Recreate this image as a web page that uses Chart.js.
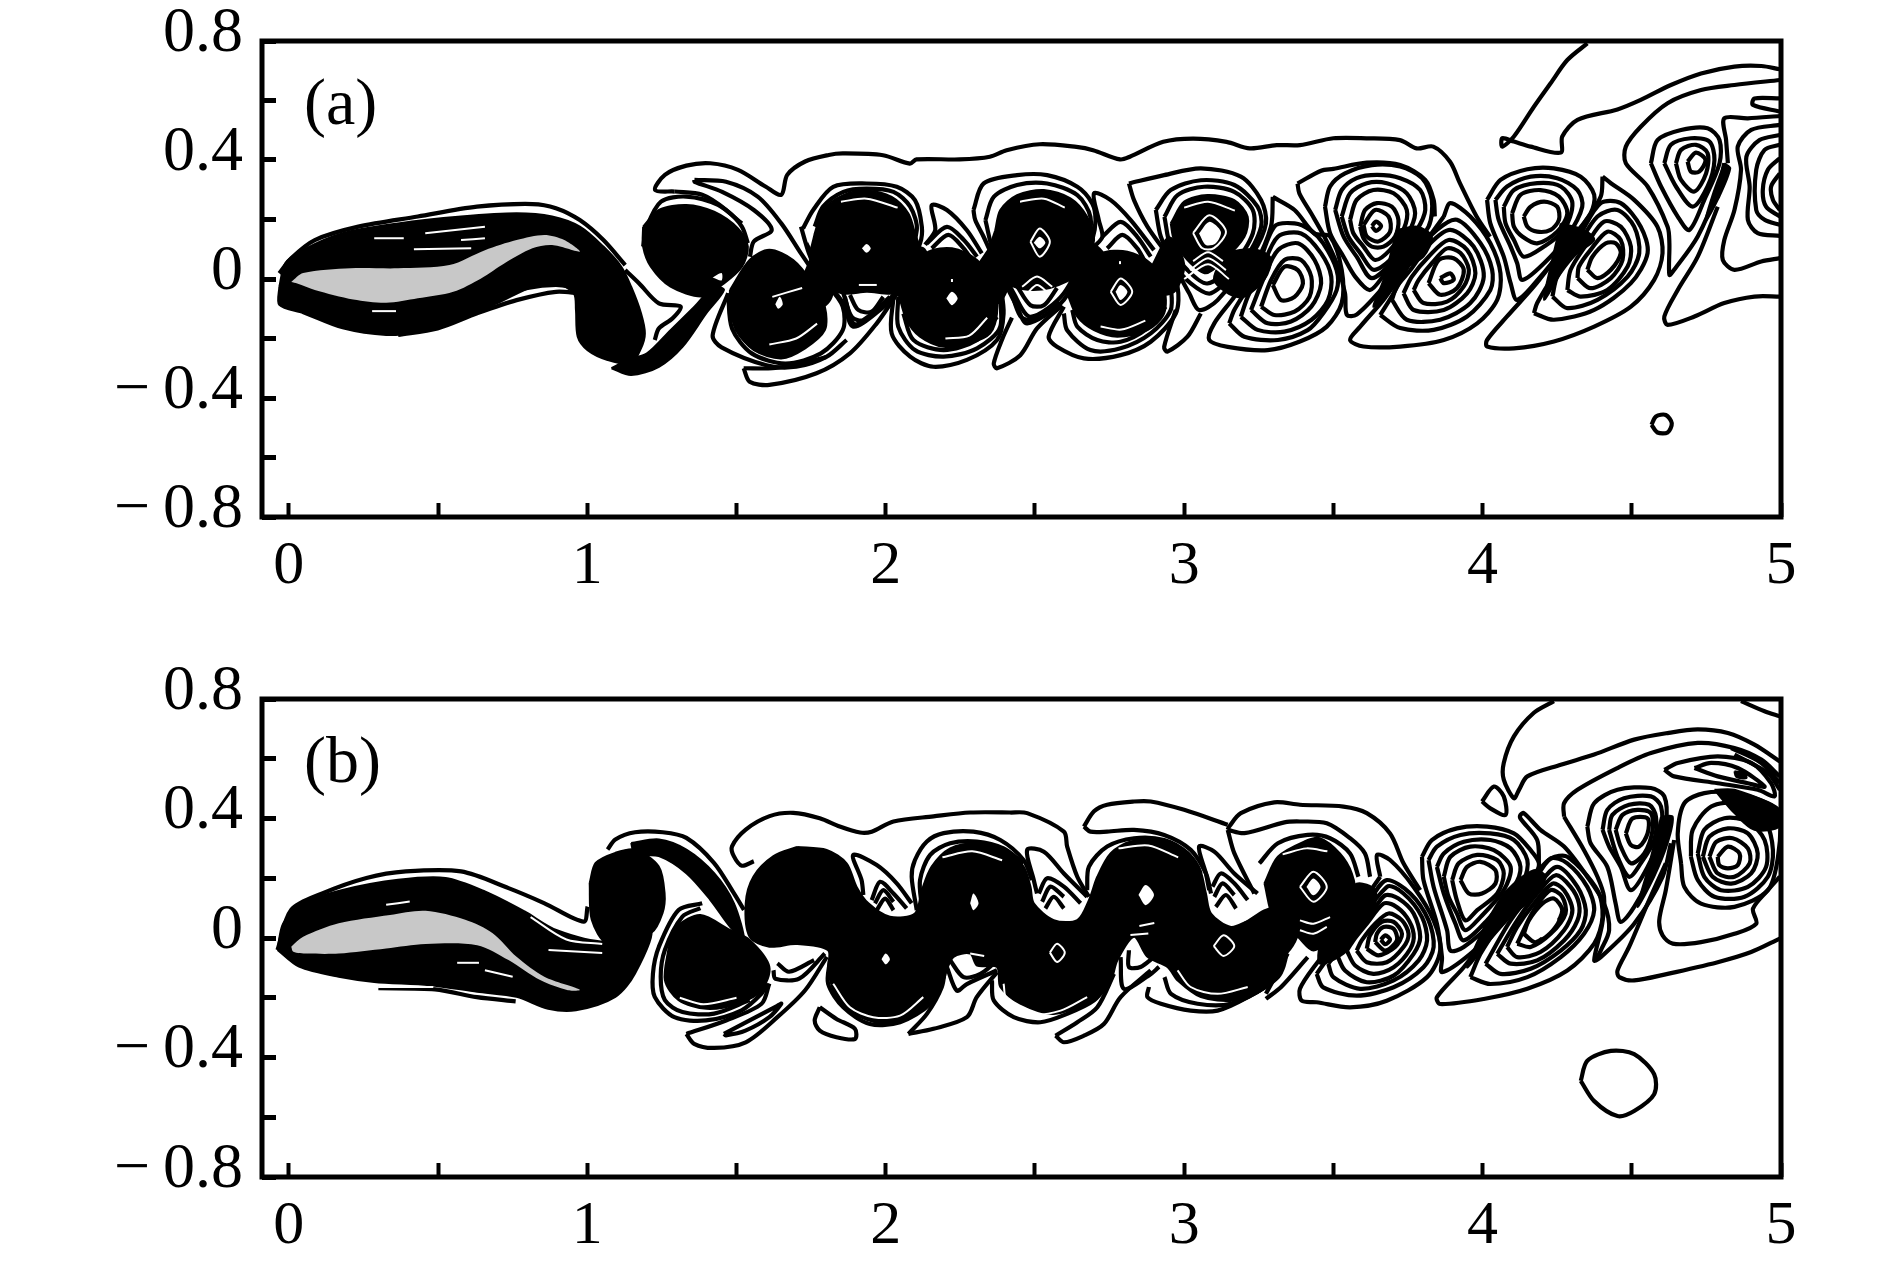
<!DOCTYPE html>
<html>
<head>
<meta charset="utf-8">
<script src="https://cdn.jsdelivr.net/npm/chart.js@4/dist/chart.umd.min.js"></script>
<style>
  body { margin: 0; background: #fff; }
  canvas { position: absolute; left: 0; }
  #panelA { top: 0; }
  #panelB { top: 658px; }
</style>
</head>
<body>
<canvas id="panelA" width="1890" height="610"></canvas>
<canvas id="panelB" width="1890" height="618"></canvas>
<script>
// Axes --------------------
const xTicks = [0, 0.5, 1, 1.5, 2, 2.5, 3, 3.5, 4, 4.5, 5];
const yTicks = [-0.8, -0.6, -0.4, -0.2, 0, 0.2, 0.4, 0.6, 0.8];
const xLabels = [0, 1, 2, 3, 4, 5];
const yLabels = [-0.8, -0.4, 0, 0.4, 0.8];

// Panel (a): solid black regions --------------------
const aBlackFills = [
  [[-.032,-.026],[-.012,.053],[.048,.098],[.18,.154],[.366,.187],[.577,.21],[.763,.221],[.882,.21],[.975,.176],[1.054,.109],[1.114,.041],[1.147,-.026],[1.18,-.115],[1.193,-.183],[1.18,-.233],[1.147,-.284],[1.068,-.272],[1.001,-.239],[.968,-.194],[.962,-.104],[.955,-.048],[.895,-.015],[.816,-.026],[.697,-.082],[.564,-.138],[.432,-.177],[.326,-.188],[.18,-.166],[.048,-.115],[-.032,-.087]],
  [[1.081,-.3],[1.147,-.323],[1.24,-.295],[1.319,-.228],[1.399,-.115],[1.458,-.037],[1.425,-.026],[1.359,-.093],[1.279,-.172],[1.2,-.25],[1.134,-.272]],
  [[1.187,.176],[1.24,.232],[1.332,.249],[1.425,.226],[1.505,.17],[1.538,.109],[1.518,.041],[1.458,-.015],[1.385,-.059],[1.279,-.026],[1.213,.041],[1.187,.109]],
  [[1.478,-.037],[1.544,.064],[1.61,.098],[1.69,.064],[1.756,-.015],[1.796,-.093],[1.796,-.172],[1.73,-.233],[1.65,-.267],[1.558,-.239],[1.498,-.172],[1.478,-.093]],
  [[1.762,.153],[1.79,.232],[1.858,.282],[1.936,.297],[2.02,.276],[2.076,.22],[2.098,.153],[2.115,.086],[2.042,-.043],[1.936,-.043],[1.852,-.048],[1.779,-.004],[1.746,.064]],
  [[2.042,-.048],[2.098,.041],[2.143,.092],[2.222,.103],[2.306,.064],[2.362,-.026],[2.373,-.116],[2.35,-.183],[2.283,-.216],[2.194,-.228],[2.115,-.194],[2.07,-.138]],
  [[2.367,.164],[2.384,.232],[2.44,.282],[2.53,.299],[2.619,.271],[2.675,.209],[2.698,.131],[2.664,.03],[2.55,-.03],[2.44,-.03],[2.339,.041],[2.35,.108]],
  [[2.608,-.048],[2.664,.03],[2.72,.086],[2.81,.092],[2.888,.052],[2.933,-.026],[2.933,-.116],[2.877,-.172],[2.776,-.194],[2.698,-.172],[2.642,-.127]],
  [[2.955,.187],[3.0,.26],[3.078,.282],[3.168,.265],[3.213,.209],[3.202,.142],[3.134,.064],[3.073,.019],[3.011,.064],[2.966,.131]],
  [[3.14,.09],[3.235,.1],[3.29,.07],[3.27,.0],[3.2,-.06],[3.15,-.05],[3.1,.0]],
  [[3.713,.165],[3.78,.176],[3.83,.143],[3.802,.075],[3.735,.031],[3.679,-.048],[3.634,-.093],[3.668,-.003]],
  [[4.262,.187],[4.34,.165],[4.374,.131],[4.318,.087],[4.262,.019],[4.206,-.07],[4.228,.042]],
  [[4.81,.389],[4.83,.372],[4.79,.27],[4.745,.19],[4.77,.28]]
];
const aBridges = [
  [[1.745,.06],[1.82,-.05],[1.79,-.09],[1.72,-.02]],
  [[2.02,-.04],[2.07,.1],[2.13,.1],[2.14,.03],[2.08,-.07]],
  [[2.31,.05],[2.37,.12],[2.42,.02],[2.38,-.08],[2.33,-.04]],
  [[2.62,.0],[2.68,.12],[2.73,.08],[2.68,-.06],[2.62,-.07]],
  [[2.89,.04],[2.95,.14],[3.0,.05],[2.97,-.04],[2.92,-.05]]
];
const aGrey = [[.008,-.01],[.048,.02],[.207,.036],[.366,.036],[.538,.047],[.657,.097],[.763,.131],[.856,.148],[.923,.131],[.975,.092],[.882,.114],[.816,.103],[.723,.053],[.644,.002],[.551,-.043],[.432,-.065],[.326,-.08],[.216,-.069],[.087,-.037],[.028,-.015]];

// Panel (a): contour lines --------------------
const aBodyCurves = [
  [[-.032,.019],[.008,.07],[.087,.131],[.233,.176],[.432,.21],[.63,.243],[.816,.252],[.895,.238],[.975,.198],[1.054,.131],[1.127,.047]],
  [[.366,-.188],[.498,-.166],[.631,-.115],[.763,-.071],[.895,-.043],[.975,-.048]],
  [[.7,-.06],[.8,-.03],[.895,-.02],[.97,-.03]],
  [[1.127,.03],[1.174,-.015],[1.24,-.082],[1.313,-.093],[1.286,-.132],[1.24,-.166],[1.226,-.205]]
];
const aTopStreamer = [[1.187,.109],[1.2,.176],[1.247,.26],[1.332,.277],[1.438,.249],[1.518,.187]];
const aStreamer1 = [[1.293,.294],[1.385,.283],[1.465,.232],[1.518,.176],[1.538,.12]];
const aStreamer2 = [[1.359,.333],[1.465,.327],[1.571,.277],[1.65,.187],[1.716,.086],[1.776,-.003]];
const aStreamer3 = [[1.359,.333],[1.359,.327],[1.452,.293],[1.558,.232],[1.618,.165],[1.558,.126],[1.545,.075]];
const aStreamer4 = [[1.716,.176],[1.743,.086],[1.783,-.003]];
const aOuterTop = [[1.293,.294],[1.227,.299],[1.26,.35],[1.332,.381],[1.412,.389],[1.505,.367],[1.597,.311],[1.65,.283],[1.67,.35],[1.73,.395],[1.809,.417],[1.857,.422],[1.991,.416],[2.081,.388],[2.103,.402],[2.248,.402],[2.349,.411],[2.405,.433],[2.516,.453],[2.639,.444],[2.695,.433],[2.785,.402],[2.818,.411],[2.93,.461],[3.03,.472],[3.142,.461],[3.22,.439],[3.31,.45],[3.388,.45],[3.5,.473],[3.611,.473],[3.723,.467],[3.779,.439],[3.835,.445],[3.891,.394],[3.924,.322],[3.98,.21],[4.025,.142]];
const aV2Curves = [
  [[1.472,-.048],[1.485,-.166],[1.551,-.25],[1.664,-.284],[1.783,-.25],[1.856,-.172],[1.856,-.093],[1.809,-.026],[1.763,.008]],
  [[1.472,-.048],[1.42,-.19],[1.45,-.23],[1.6,-.29],[1.7,-.295],[1.801,-.262],[1.869,-.205]],
  [[1.524,-.3],[1.544,-.345],[1.61,-.356],[1.768,-.317],[1.88,-.25],[1.97,-.149],[2.031,-.06]],
  [[1.524,-.3],[1.62,-.3],[1.712,-.286],[1.801,-.262]]
];
const aV3Curves = [
  [[1.723,.17],[1.757,.232],[1.824,.31],[1.936,.321],[2.037,.31],[2.098,.265],[2.121,.176],[2.115,.12],[2.048,-.037],[1.981,-.104],[1.891,-.16],[1.858,-.082],[1.79,.008],[1.734,.12]],
  [[1.762,.176],[1.79,.243],[1.858,.293],[1.936,.304],[2.026,.293],[2.082,.243],[2.104,.164],[2.048,-.024],[1.925,-.138],[1.886,-.127],[1.858,-.048]],
  [[1.863,-.06],[1.891,-.149],[1.925,-.144],[2.014,-.06]],
  [[1.88,-.054],[1.908,-.104],[1.953,-.11],[1.992,-.06]]
];
const aV4Curves = [
  [[2.132,.115],[2.166,.164],[2.154,.248],[2.205,.232],[2.272,.164],[2.322,.086]],
  [[2.138,.12],[2.205,.175],[2.261,.132],[2.306,.075]],
  [[2.154,.103],[2.21,.148],[2.261,.103],[2.289,.064]],
  [[2.026,-.06],[2.02,-.183],[2.082,-.261],[2.16,-.295],[2.272,-.272],[2.373,-.205],[2.395,-.116],[2.384,-.015]],
  [[2.042,-.06],[2.042,-.16],[2.098,-.239],[2.194,-.261],[2.306,-.233],[2.384,-.16],[2.373,.0]],
  [[2.059,-.116],[2.093,-.205],[2.194,-.239],[2.306,-.205],[2.373,-.127]]
];
const aV5Curves = [
  [[2.294,.232],[2.328,.321],[2.44,.349],[2.541,.349],[2.642,.31],[2.692,.254],[2.703,.198],[2.692,.131],[2.642,.008],[2.586,-.082],[2.474,-.149],[2.44,-.093],[2.384,.019],[2.328,.142],[2.3,.198],[2.294,.232]],
  [[2.334,.198],[2.362,.276],[2.44,.316],[2.541,.321],[2.642,.282],[2.686,.209],[2.675,.12],[2.597,-.048],[2.485,-.127],[2.429,-.048],[2.362,.086],[2.334,.198]],
  [[2.418,-.035],[2.451,-.125],[2.485,-.136],[2.58,-.076]],
  [[2.44,-.024],[2.485,-.088],[2.53,-.088],[2.574,-.03]]
];
const aV6Curves = [
  [[2.698,.108],[2.726,.142],[2.714,.198],[2.698,.288],[2.754,.265],[2.821,.198],[2.899,.097]],
  [[2.726,.142],[2.787,.192],[2.843,.142],[2.888,.075]],
  [[2.742,.103],[2.793,.148],[2.843,.103],[2.866,.064]],
  [[2.423,-.13],[2.39,-.203],[2.362,-.284],[2.373,-.3],[2.451,-.256],[2.507,-.166],[2.591,-.088]],
  [[2.597,-.093],[2.546,-.194],[2.574,-.228],[2.664,-.267],[2.787,-.256],[2.888,-.211],[2.972,-.116],[2.978,-.026],[2.944,.052]],
  [[2.597,-.116],[2.608,-.172],[2.686,-.239],[2.787,-.233],[2.888,-.183],[2.955,-.104],[2.955,-.015]],
  [[2.625,-.104],[2.642,-.16],[2.709,-.205],[2.787,-.211],[2.877,-.166],[2.938,-.093]]
];
const aV7Rings = [
  [[2.815,.321],[2.933,.349],[3.056,.372],[3.19,.344],[3.258,.265],[3.274,.187],[3.23,.086],[3.112,-.071],[3.05,-.104],[3.017,-.048],[2.955,.064],[2.877,.176],[2.832,.265]],
  [[2.905,.232],[2.955,.299],[3.056,.332],[3.168,.316],[3.246,.243],[3.258,.176],[3.202,.064],[3.09,-.048],[3.022,-.015],[2.966,.052],[2.922,.142]],
  [[2.934,.209],[2.978,.282],[3.067,.31],[3.168,.293],[3.23,.232],[3.23,.153],[3.168,.052],[3.078,-.015],[3.011,.03],[2.955,.108]]
];
const aV7Tail = [[2.972,-.104],[2.933,-.228],[2.944,-.244],[3.011,-.194],[3.056,-.116]];
const aV8Rings = [
  [[3.297,.276],[3.37,.232],[3.437,.153],[3.489,.143],[3.528,.031],[3.528,-.081],[3.478,-.16],[3.388,-.21],[3.28,-.239],[3.146,-.228],[3.084,-.205],[3.101,-.149],[3.168,-.06],[3.235,.041],[3.291,.176]],
  [[3.151,-.149],[3.202,-.194],[3.314,-.205],[3.414,-.172],[3.466,-.115],[3.511,-.037],[3.511,.03],[3.466,.12],[3.422,.165],[3.37,.187],[3.302,.176],[3.235,.008],[3.168,-.104]],
  [[3.19,-.127],[3.246,-.171],[3.336,-.177],[3.426,-.138],[3.482,-.071],[3.493,.008],[3.459,.086],[3.392,.153],[3.314,.142],[3.258,.03],[3.213,-.06]],
  [[3.224,-.104],[3.28,-.149],[3.358,-.143],[3.426,-.093],[3.459,-.015],[3.437,.064],[3.381,.12],[3.314,.097],[3.269,.008]],
  [[3.258,-.093],[3.302,-.121],[3.37,-.11],[3.42,-.06],[3.426,.008],[3.392,.064],[3.336,.064],[3.291,-.004]],
  [[3.297,-.02],[3.325,-.071],[3.37,-.06],[3.398,-.015],[3.381,.03],[3.336,.041]]
];
const aV9Rings = [
  [[3.472,.243],[3.489,.311],[3.539,.355],[3.629,.383],[3.724,.378],[3.797,.339],[3.83,.266],[3.819,.176],[3.746,.087],[3.679,.025],[3.623,-.037],[3.573,.008],[3.534,.075],[3.489,.154]],
  [[3.506,.232],[3.528,.299],[3.578,.339],[3.646,.35],[3.724,.339],[3.791,.299],[3.808,.232],[3.78,.165],[3.713,.075],[3.629,.003],[3.578,.075],[3.534,.143]],
  [[3.528,.21],[3.556,.288],[3.612,.322],[3.679,.322],[3.746,.288],[3.774,.221],[3.746,.143],[3.69,.064],[3.634,.031],[3.59,.087],[3.55,.143]],
  [[3.556,.199],[3.578,.266],[3.634,.299],[3.702,.288],[3.746,.232],[3.735,.165],[3.69,.098],[3.64,.064],[3.601,.109],[3.567,.154]],
  [[3.59,.176],[3.606,.232],[3.646,.255],[3.696,.243],[3.718,.199],[3.707,.143],[3.668,.109],[3.629,.109],[3.601,.137]],
  [[3.601,.182],[3.64,.232],[3.685,.21],[3.69,.159],[3.651,.126],[3.612,.143]],
  [[3.629,.178],[3.643,.193],[3.66,.178],[3.643,.162]]
];
const aV9Curves = [
  [[3.38,.321],[3.459,.364],[3.5,.37],[3.612,.391],[3.724,.383],[3.808,.333],[3.836,.266],[3.84,.21]],
  [[3.38,.321],[3.386,.288],[3.426,.22],[3.47,.142],[3.511,.053],[3.539,-.048],[3.545,-.12],[3.578,-.12],[3.679,-.014],[3.724,.053]]
];
const aV10Rings = [
  [[3.87,.21],[3.892,.255],[3.959,.21],[4.026,.12],[4.06,.019],[4.049,-.07],[3.982,-.149],[3.87,-.205],[3.724,-.227],[3.601,-.227],[3.556,-.205],[3.59,-.16],[3.668,-.07],[3.724,.008]],
  [[3.657,-.121],[3.724,-.165],[3.836,-.171],[3.948,-.126],[4.026,-.037],[4.032,.031],[3.993,.12],[3.914,.199],[3.847,.165],[3.769,.075],[3.702,-.048]],
  [[3.696,-.07],[3.746,-.137],[3.858,-.137],[3.959,-.081],[4.004,.008],[3.97,.109],[3.892,.165],[3.825,.12],[3.758,.03],[3.713,-.025]],
  [[3.735,-.048],[3.769,-.104],[3.87,-.104],[3.948,-.048],[3.976,.019],[3.948,.098],[3.886,.131],[3.819,.075],[3.763,.008]],
  [[3.769,-.037],[3.802,-.081],[3.881,-.076],[3.937,-.025],[3.954,.031],[3.926,.087],[3.881,.103],[3.83,.053],[3.786,-.003]],
  [[3.819,-.014],[3.858,-.053],[3.914,-.031],[3.937,.031],[3.903,.07],[3.853,.064]],
  [[3.858,.003],[3.892,.019],[3.903,-.003],[3.87,-.014]]
];
const aV11Rings = [
  [[4.015,.266],[4.06,.333],[4.15,.369],[4.239,.372],[4.329,.344],[4.374,.283],[4.362,.221],[4.284,.12],[4.194,.008],[4.116,-.07],[4.094,-.014],[4.071,.075],[4.026,.187]],
  [[4.043,.266],[4.082,.311],[4.161,.344],[4.25,.339],[4.318,.299],[4.334,.243],[4.284,.143],[4.206,.053],[4.133,-.003],[4.116,.053],[4.094,.109],[4.054,.199]],
  [[4.071,.243],[4.105,.299],[4.183,.322],[4.262,.311],[4.301,.255],[4.273,.165],[4.206,.109],[4.138,.075],[4.105,.131],[4.077,.187]],
  [[4.099,.221],[4.127,.283],[4.194,.299],[4.256,.277],[4.284,.221],[4.25,.159],[4.183,.12],[4.133,.143],[4.105,.176]],
  [[4.138,.21],[4.161,.243],[4.206,.26],[4.25,.243],[4.256,.199],[4.228,.165],[4.183,.159],[4.15,.176]]
];
const aV12Rings = [
  [[4.402,.344],[4.43,.322],[4.508,.266],[4.586,.176],[4.603,.087],[4.575,-.003],[4.497,-.093],[4.374,-.16],[4.239,-.21],[4.105,-.233],[4.015,-.227],[4.015,-.205],[4.082,-.126],[4.172,-.025],[4.25,.075],[4.34,.187],[4.396,.277]],
  [[4.172,-.115],[4.239,-.137],[4.374,-.104],[4.497,-.014],[4.553,.087],[4.53,.176],[4.463,.255],[4.396,.255],[4.329,.154],[4.25,.031],[4.183,-.081]],
  [[4.234,-.059],[4.284,-.098],[4.385,-.07],[4.486,.008],[4.525,.087],[4.508,.176],[4.452,.232],[4.385,.21],[4.318,.109],[4.25,.008]],
  [[4.284,-.037],[4.329,-.059],[4.418,-.037],[4.486,.042],[4.497,.109],[4.463,.176],[4.407,.193],[4.351,.12],[4.295,.031]],
  [[4.318,.003],[4.362,-.031],[4.43,.003],[4.469,.064],[4.463,.131],[4.418,.159],[4.362,.098],[4.323,.042]],
  [[4.351,.031],[4.385,.003],[4.43,.031],[4.463,.087],[4.446,.12],[4.413,.12],[4.368,.075]]
];
const aV13Rings = [
  [[4.564,.389],[4.586,.467],[4.665,.501],[4.754,.507],[4.794,.467],[4.794,.389],[4.743,.266],[4.693,.165],[4.654,.21],[4.598,.311]],
  [[4.609,.389],[4.631,.451],[4.698,.473],[4.76,.462],[4.777,.4],[4.754,.311],[4.704,.243],[4.648,.311]],
  [[4.648,.389],[4.665,.434],[4.715,.451],[4.754,.423],[4.749,.355],[4.71,.294],[4.665,.333]],
  [[4.687,.395],[4.715,.425],[4.747,.4],[4.726,.361],[4.698,.361]]
];
const aRightCurves = [
  [[4.351,.792],[4.284,.736],[4.228,.658],[4.172,.579],[4.105,.479],[4.066,.445],[4.066,.473],[4.105,.462],[4.161,.445],[4.262,.425],[4.267,.479],[4.318,.535],[4.452,.57],[4.53,.602],[4.631,.652],[4.732,.691],[4.844,.714],[4.934,.716],[4.996,.705]],
  [[4.996,.669],[4.844,.652],[4.732,.635],[4.62,.591],[4.53,.512],[4.48,.445],[4.48,.389],[4.553,.311],[4.62,.176],[4.626,.12],[4.626,.014],[4.642,.031],[4.721,.143],[4.788,.3],[4.81,.389]],
  [[4.996,.548],[4.889,.54],[4.81,.54],[4.816,.467],[4.822,.389]],
  [[4.996,.07],[4.934,.059],[4.844,.031],[4.805,.064],[4.81,.131],[4.844,.232],[4.866,.367],[4.855,.445],[4.9,.501],[4.996,.518]],
  [[4.996,.484],[4.928,.467],[4.884,.411],[4.895,.31],[4.889,.199],[4.922,.154],[4.996,.145]],
  [[4.996,.451],[4.945,.434],[4.917,.367],[4.917,.232],[4.945,.199],[4.996,.182]],
  [[4.996,.406],[4.956,.367],[4.939,.299],[4.95,.243],[4.996,.21]],
  [[4.996,.355],[4.967,.311],[4.973,.266],[4.996,.232]],
  [[4.996,.607],[4.911,.607],[4.906,.585],[4.996,.563]],
  [[4.996,-.059],[4.911,-.059],[4.81,-.081],[4.71,-.126],[4.62,-.154],[4.609,-.126],[4.654,-.037],[4.721,.075],[4.788,.243]]
];
const aOval = [[4.566,-.49],[4.581,-.462],[4.614,-.457],[4.634,-.485],[4.62,-.516],[4.586,-.516]];

// Panel (a): gaps inside the black regions --------------------
const aWhiteArcs = [
  [[.286,.137],[.385,.137]],[[.419,.1],[.611,.103]],[[.457,.154],[.657,.176]],[[.577,.131],[.657,.137]],[[.279,-.108],[.359,-.108]],
  [[1.61,-.22],[1.7,-.2],[1.77,-.15]],[[1.62,-.06],[1.72,-.03]],
  [[1.85,.26],[1.936,.27],[2.04,.24]],[[1.97,-.02],[1.91,-.02]],
  [[2.2,-.2],[2.28,-.19],[2.34,-.13]],[[2.222,-.01],[2.222,.0]],
  [[2.457,-.026],[2.507,.008],[2.558,-.026]],[[2.474,-.048],[2.507,-.02],[2.546,-.048]],[[2.45,.26],[2.53,.27],[2.6,.24]],
  [[2.72,-.16],[2.79,-.17],[2.87,-.14]],[[2.785,.06],[2.785,.05]],
  [[3.0,.0],[3.08,.05],[3.15,.0]],[[3.02,.03],[3.08,.07],[3.14,.03]],[[3.03,.06],[3.08,.09],[3.13,.06]],[[3.0,.24],[3.08,.26],[3.17,.23]]
];
const aWhiteRings = [
  [[2.485,.125],[2.516,.17],[2.55,.125],[2.516,.075]],
  [[2.754,-.043],[2.787,.002],[2.826,-.043],[2.787,-.087]],
  [[3.03,.155],[3.084,.214],[3.14,.16],[3.1,.104],[3.06,.104]]
];
const aHoles = [
  [[1.92,.103],[1.936,.118],[1.95,.103],[1.936,.088]],
  [[2.203,-.065],[2.222,-.043],[2.241,-.065],[2.222,-.088]],
  [[2.496,.122],[2.516,.142],[2.535,.122],[2.516,.103]],
  [[2.77,-.043],[2.787,-.02],[2.81,-.043],[2.787,-.071]],
  [[3.05,.153],[3.084,.192],[3.123,.159],[3.106,.12],[3.073,.114]],
  [[1.63,-.085],[1.645,-.06],[1.655,-.085],[1.64,-.1]],
  [[1.42,.005],[1.45,.02],[1.45,-.005]]
];

// Panel (b): solid black regions --------------------
const bBlackFills = [
  [[-.038,-.04],[-.019,.049],[.048,.117],[.18,.161],[.366,.195],[.525,.201],[.657,.156],[.79,.089],[.896,.027],[1.061,-.012],[1.213,.027],[1.16,-.119],[1.094,-.197],[.962,-.242],[.869,-.237],[.763,-.197],[.631,-.18],[.471,-.158],[.286,-.147],[.167,-.13],[.034,-.096]],
  [[1.008,.184],[1.028,.251],[1.094,.285],[1.16,.296],[1.239,.24],[1.259,.15],[1.252,.083],[1.213,.016],[1.068,-.018],[1.015,.061]],
  [[1.147,.318],[1.24,.33],[1.332,.296],[1.425,.217],[1.491,.117],[1.525,-.007],[1.478,.038],[1.412,.128],[1.332,.217],[1.24,.274],[1.16,.28]],
  [[1.273,-.029],[1.3,.038],[1.379,.077],[1.478,.027],[1.544,-.007],[1.61,-.096],[1.584,-.175],[1.505,-.22],[1.399,-.237],[1.306,-.208],[1.26,-.141]],
  [[1.703,.305],[1.802,.295],[1.869,.25],[1.902,.172],[1.942,.116],[2.014,.071],[2.098,.082],[2.121,.16],[2.154,.239],[2.216,.3],[2.305,.317],[2.406,.289],[2.462,.239],[2.485,.172],[2.496,.116],[2.563,.06],[2.642,.06],[2.681,.127],[2.709,.205],[2.754,.284],[2.821,.323],[2.921,.328],[3.0,.295],[3.05,.239],[3.073,.149],[3.09,.082],[3.157,.037],[3.235,.06],[3.325,-.008],[3.325,-.097],[3.28,-.164],[3.168,-.209],[3.056,-.198],[2.978,-.142],[2.944,-.097],[2.877,-.063],[2.832,.004],[2.776,-.075],[2.754,-.142],[2.686,-.209],[2.563,-.254],[2.451,-.22],[2.384,-.164],[2.373,-.097],[2.306,-.092],[2.283,-.052],[2.227,-.064],[2.194,-.131],[2.138,-.22],[2.026,-.288],[1.914,-.265],[1.835,-.198],[1.807,-.108],[1.807,-.041],[1.7,-.02],[1.61,-.029],[1.544,.004],[1.531,.117],[1.557,.206],[1.624,.274]],
  [[3.269,.183],[3.314,.272],[3.403,.323],[3.455,.334],[3.522,.283],[3.562,.216],[3.573,.138],[3.545,.07],[3.494,.003],[3.433,-.042],[3.38,.004],[3.302,.06]],
  [[3.2,.05],[3.3,.1],[3.38,.02],[3.33,-.06],[3.25,-.02]],
  [[3.5,.104],[3.578,.182],[3.64,.16],[3.634,.093],[3.578,.014],[3.534,-.053],[3.455,-.086],[3.455,-.019]],
  [[4.015,.059],[4.082,.16],[4.172,.227],[4.211,.205],[4.172,.138],[4.094,.07],[4.015,-.019],[3.948,-.098]],
  [[4.598,.406],[4.637,.406],[4.62,.317],[4.575,.205],[4.519,.104],[4.553,.227]],
  [[4.777,.496],[4.844,.496],[4.996,.429],[4.996,.373],[4.911,.362],[4.844,.418]],
  [[4.844,.558],[4.878,.552],[4.884,.535],[4.85,.539]]
];
const bGrey = [[.008,-.029],[.048,.004],[.167,.049],[.339,.077],[.458,.091],[.591,.061],[.683,.016],[.763,-.063],[.856,-.13],[.975,-.173],[.935,-.175],[.842,-.141],[.736,-.074],[.631,-.024],[.458,-.02],[.326,-.035],[.167,-.052],[.061,-.052],[.015,-.046]];

// Panel (b): contour lines --------------------
const bBodyCurves = [
  [[-.038,-.04],[.008,.094],[.114,.15],[.26,.201],[.392,.223],[.577,.223],[.736,.167],[.855,.117],[.988,.055],[1.001,.105]],
  [[1.068,.296],[1.094,.33],[1.16,.354],[1.253,.354],[1.332,.335],[1.425,.251],[1.491,.15],[1.525,.094]],
  [[.3,-.168],[.49,-.172],[.63,-.198],[.76,-.212]]
];
const bV2Curves = [
  [[1.385,.116],[1.306,.094],[1.24,-.029],[1.22,-.119],[1.226,-.197],[1.292,-.265],[1.398,-.276],[1.517,-.242],[1.584,-.186],[1.603,-.152]],
  [[1.379,.1],[1.319,.072],[1.26,-.04],[1.246,-.13],[1.26,-.208],[1.319,-.248],[1.425,-.253],[1.544,-.208]],
  [[1.332,-.321],[1.465,-.276],[1.584,-.22],[1.61,-.152]],
  [[1.332,-.321],[1.358,-.354],[1.425,-.368],[1.531,-.349],[1.637,-.265],[1.73,-.175],[1.803,-.063]],
  [[1.458,-.321],[1.544,-.276],[1.637,-.227],[1.65,-.22],[1.61,-.265],[1.53,-.31],[1.464,-.326],[1.458,-.321]],
  [[1.624,-.108],[1.63,-.136],[1.71,-.136],[1.796,-.052]],
  [[1.637,-.085],[1.676,-.113],[1.76,-.074]]
];
const bTopStreamer = [[1.558,.257],[1.518,.242],[1.491,.274],[1.485,.307],[1.531,.363],[1.611,.408],[1.69,.419],[1.779,.401],[1.846,.373],[1.914,.353],[1.953,.356],[2.026,.39],[2.16,.407],[2.283,.42],[2.418,.42],[2.474,.418],[2.597,.356],[2.608,.306],[2.642,.205],[2.681,.138]];
const bBlobTail = [[1.779,-.232],[1.762,-.276],[1.779,-.31],[1.835,-.332],[1.897,-.338],[1.897,-.304],[1.835,-.271]];
const bV4Curves = [
  [[1.925,.144],[1.919,.194],[1.891,.278],[1.97,.244],[2.037,.183],[2.087,.116]],
  [[1.953,.127],[1.981,.188],[2.026,.149],[2.07,.099]],
  [[1.964,.116],[1.992,.16],[2.026,.121]],
  [[1.97,.093],[1.998,.132],[2.026,.093]],
  [[1.813,-.075],[1.807,-.153],[1.858,-.232],[1.947,-.288],[2.048,-.282],[2.149,-.22],[2.194,-.131],[2.205,-.064]]
];
const bV5Curves = [
  [[2.104,.093],[2.087,.205],[2.098,.261],[2.138,.323],[2.194,.351],[2.294,.356],[2.384,.328],[2.462,.261],[2.49,.194]],
  [[2.121,.104],[2.115,.194],[2.149,.278],[2.216,.317],[2.305,.323],[2.395,.3],[2.462,.25]],
  [[2.205,-.097],[2.238,-.176],[2.272,-.154],[2.373,-.108]],
  [[2.216,-.075],[2.261,-.131],[2.317,-.12],[2.362,-.086]],
  [[2.076,-.321],[2.16,-.304],[2.272,-.265],[2.305,-.198],[2.373,-.114]],
  [[2.076,-.321],[2.138,-.254],[2.188,-.164],[2.199,-.097]]
];
const bV6Curves = [
  [[2.507,.149],[2.496,.194],[2.474,.295],[2.53,.289],[2.597,.216],[2.675,.138]],
  [[2.513,.149],[2.541,.2],[2.597,.172],[2.653,.116]],
  [[2.524,.121],[2.552,.172],[2.597,.138]],
  [[2.535,.099],[2.563,.138],[2.597,.099]],
  [[2.356,-.142],[2.362,-.209],[2.429,-.265],[2.518,-.282],[2.608,-.254],[2.698,-.209],[2.754,-.142]],
  [[2.569,-.327],[2.597,-.349],[2.664,-.327],[2.731,-.288],[2.787,-.198],[2.888,-.108]],
  [[2.569,-.327],[2.642,-.282],[2.709,-.232],[2.765,-.12]]
];
const bV7Curves = [
  [[2.664,.373],[2.698,.424],[2.742,.446],[2.832,.457],[2.888,.457],[3.0,.429],[3.146,.379]],
  [[2.664,.373],[2.686,.356],[2.742,.356],[2.832,.362],[2.933,.345],[3.022,.295],[3.073,.216],[3.09,.149]],
  [[2.675,.16],[2.681,.239],[2.742,.306],[2.832,.334],[2.933,.328],[3.011,.284],[3.056,.216]],
  [[2.787,-.064],[2.798,-.17],[2.882,-.125],[2.916,-.097]],
  [[2.815,-.041],[2.815,-.097],[2.854,-.097],[2.899,-.064]]
];
const bV8Curves = [
  [[3.084,.16],[3.073,.216],[3.05,.306],[3.101,.289],[3.168,.216],[3.246,.149]],
  [[3.095,.172],[3.123,.216],[3.168,.183],[3.213,.127]],
  [[3.101,.138],[3.129,.183],[3.168,.144]],
  [[3.106,.104],[3.14,.144],[3.174,.099]],
  [[2.882,-.164],[2.877,-.198],[2.922,-.22],[3.022,-.243],[3.112,-.243],[3.213,-.198],[3.314,-.131],[3.342,-.052],[3.325,.004]],
  [[2.934,-.131],[2.956,-.187],[3.045,-.22],[3.156,-.22],[3.269,-.164],[3.325,-.086]],
  [[3.274,-.204],[3.325,-.164],[3.414,-.064]],
  [[3.274,-.187],[3.347,-.052]]
];
const bV9Curves = [
  [[3.146,.362],[3.151,.373],[3.19,.418],[3.302,.454],[3.388,.446],[3.534,.44],[3.612,.418],[3.69,.35],[3.735,.25],[3.791,.16]],
  [[3.146,.362],[3.202,.351],[3.336,.387],[3.388,.39],[3.478,.384],[3.556,.334],[3.606,.283],[3.623,.205]],
  [[3.146,.362],[3.168,.284],[3.235,.149]],
  [[3.252,.25],[3.314,.317],[3.414,.345],[3.489,.334],[3.556,.283],[3.584,.205]]
];
const bV10Rings = [
  [[3.657,.205],[3.646,.278],[3.69,.261],[3.769,.171],[3.836,.059],[3.858,-.042],[3.814,-.131],[3.679,-.21],[3.556,-.232],[3.444,-.215],[3.394,-.21],[3.388,-.17],[3.444,-.085],[3.5,-.02]],
  [[3.444,-.12],[3.466,-.165],[3.578,-.193],[3.702,-.165],[3.802,-.098],[3.836,-.03],[3.819,.059],[3.758,.149],[3.679,.194],[3.629,.138]],
  [[3.483,-.086],[3.5,-.131],[3.59,-.17],[3.702,-.142],[3.786,-.075],[3.814,-.008],[3.797,.07],[3.735,.149],[3.679,.171]],
  [[3.511,-.053],[3.539,-.109],[3.612,-.148],[3.702,-.126],[3.769,-.053],[3.791,.003],[3.769,.082],[3.718,.132],[3.674,.143],[3.634,.093]],
  [[3.545,-.042],[3.573,-.092],[3.634,-.12],[3.702,-.098],[3.758,-.036],[3.769,.014],[3.746,.07],[3.702,.11],[3.668,.115],[3.612,.048],[3.567,-.008]],
  [[3.578,-.042],[3.612,-.081],[3.679,-.081],[3.735,-.03],[3.752,.014],[3.73,.059],[3.685,.082],[3.64,.048],[3.595,-.008]],
  [[3.612,-.036],[3.651,-.058],[3.707,-.03],[3.73,.014],[3.702,.054],[3.662,.054],[3.623,.009]],
  [[3.64,-.014],[3.674,-.042],[3.713,-.008],[3.702,.031],[3.668,.037],[3.646,.014]],
  [[3.659,-.006],[3.674,.009],[3.69,-.006],[3.674,-.021]]
];
const bV11Rings = [
  [[3.797,.272],[3.83,.328],[3.914,.367],[4.015,.373],[4.105,.35],[4.161,.294],[4.189,.25],[4.172,.205],[4.06,.048],[3.959,-.053],[3.864,-.114],[3.864,-.064],[3.847,.048],[3.802,.194]],
  [[3.819,.261],[3.847,.306],[3.926,.345],[4.026,.35],[4.105,.328],[4.15,.261],[4.138,.194],[4.038,.059],[3.937,-.03],[3.892,-.042],[3.881,.026],[3.836,.171]],
  [[3.847,.238],[3.87,.283],[3.937,.322],[4.026,.328],[4.094,.3],[4.127,.238],[4.105,.171],[4.015,.059],[3.937,-.008],[3.909,.048],[3.87,.149]],
  [[3.87,.205],[3.892,.272],[3.959,.306],[4.038,.294],[4.094,.238],[4.071,.16],[3.993,.07],[3.942,.026],[3.914,.082],[3.886,.138]],
  [[3.898,.194],[3.92,.25],[3.982,.278],[4.049,.261],[4.071,.216],[4.049,.149],[3.982,.093],[3.942,.059],[3.914,.126]],
  [[3.926,.194],[3.948,.238],[3.993,.255],[4.043,.227],[4.043,.182],[3.998,.149],[3.954,.149]]
];
const bV12Rings = [
  [[3.995,-.019],[3.937,-.098],[3.847,-.198],[3.858,-.221],[4.004,-.204],[4.15,-.17],[4.284,-.109],[4.374,-.019],[4.402,.07],[4.385,.16],[4.284,.272],[4.228,.266],[4.189,.227]],
  [[3.959,-.131],[4.026,-.154],[4.15,-.131],[4.262,-.064],[4.34,.014],[4.374,.093],[4.351,.171],[4.284,.25],[4.228,.266],[4.161,.171],[4.06,.048],[3.993,-.053]],
  [[4.01,-.086],[4.06,-.12],[4.161,-.103],[4.262,-.042],[4.329,.027],[4.346,.093],[4.318,.171],[4.25,.238],[4.183,.171],[4.094,.059]],
  [[4.049,-.053],[4.094,-.086],[4.183,-.075],[4.273,-.008],[4.318,.059],[4.323,.115],[4.295,.171],[4.245,.21],[4.183,.149],[4.116,.059]],
  [[4.082,-.03],[4.116,-.064],[4.194,-.047],[4.273,.026],[4.301,.093],[4.273,.16],[4.234,.182],[4.172,.115],[4.116,.037]],
  [[4.116,-.019],[4.161,-.03],[4.228,.014],[4.278,.082],[4.267,.138],[4.228,.16],[4.172,.093]],
  [[4.138,.014],[4.178,-.014],[4.239,.037],[4.267,.093],[4.239,.132],[4.2,.115],[4.155,.059]]
];
const bV12Hat = [[4.189,.25],[4.183,.328],[4.127,.4],[4.127,.412],[4.138,.418],[4.194,.362],[4.273,.306],[4.351,.205],[4.407,.115],[4.424,.026],[4.396,-.042],[4.379,-.075]];
const bV13Rings = [
  [[4.351,.373],[4.374,.451],[4.452,.496],[4.564,.502],[4.609,.474],[4.614,.384],[4.575,.238],[4.508,.104],[4.463,.054],[4.446,.115],[4.418,.238],[4.362,.317]],
  [[4.402,.362],[4.418,.429],[4.474,.468],[4.564,.474],[4.598,.44],[4.598,.35],[4.553,.238],[4.497,.16],[4.463,.238],[4.424,.306]],
  [[4.424,.362],[4.435,.412],[4.491,.446],[4.558,.446],[4.581,.406],[4.575,.328],[4.53,.25],[4.491,.205],[4.452,.272]],
  [[4.446,.362],[4.469,.412],[4.519,.429],[4.564,.418],[4.57,.362],[4.542,.283],[4.497,.25],[4.463,.306]],
  [[4.48,.35],[4.502,.4],[4.553,.4],[4.553,.35],[4.525,.306],[4.497,.311]]
];
const bV14Rings = [
  [[4.665,.25],[4.654,.35],[4.676,.451],[4.743,.485],[4.844,.485],[4.956,.451],[4.996,.418],[4.99,.272],[4.956,.16],[4.844,.104],[4.732,.115],[4.676,.171]],
  [[4.698,.272],[4.704,.362],[4.766,.44],[4.855,.451],[4.945,.395],[4.973,.294],[4.956,.205],[4.878,.138],[4.777,.138],[4.721,.194]],
  [[4.721,.283],[4.743,.362],[4.81,.401],[4.889,.39],[4.945,.328],[4.95,.238],[4.889,.171],[4.799,.16],[4.743,.205]],
  [[4.738,.272],[4.76,.339],[4.822,.367],[4.889,.35],[4.922,.283],[4.9,.216],[4.833,.182],[4.771,.205]],
  [[4.76,.272],[4.783,.322],[4.838,.334],[4.889,.3],[4.895,.25],[4.844,.205],[4.788,.216]],
  [[4.788,.272],[4.822,.306],[4.861,.283],[4.855,.244],[4.822,.233],[4.793,.244]],
  [[4.609,.563],[4.654,.586],[4.788,.608],[4.9,.586],[4.967,.518],[4.978,.474],[4.922,.496],[4.788,.518],[4.642,.541]],
  [[4.71,.569],[4.766,.586],[4.855,.569],[4.945,.507],[4.889,.518],[4.788,.541]],
  [[3.998,.457],[4.038,.507],[4.071,.474],[4.077,.412],[4.026,.434]]
];
const bRightCurves = [
  [[4.239,.793],[4.172,.754],[4.105,.675],[4.071,.586],[4.071,.53],[4.105,.468],[4.122,.496],[4.15,.541],[4.262,.58],[4.374,.614],[4.508,.664],[4.62,.686],[4.721,.698],[4.822,.686],[4.911,.647],[4.996,.591]],
  [[4.866,.793],[4.945,.759],[4.996,.742]],
  [[4.273,.406],[4.273,.451],[4.318,.496],[4.452,.569],[4.564,.619],[4.721,.653],[4.844,.636],[4.934,.597],[4.996,.541]],
  [[4.273,.406],[4.34,.294],[4.385,.205],[4.407,.138],[4.401,.048],[4.374,-.075],[4.396,-.064],[4.508,.048],[4.603,.205],[4.631,.317]],
  [[4.833,.636],[4.934,.586],[4.996,.519]],
  [[4.844,.614],[4.956,.552],[4.996,.496]],
  [[4.996,-.002],[4.9,-.047],[4.788,-.081],[4.62,-.12],[4.508,-.142],[4.458,-.131],[4.452,-.109],[4.491,-.03],[4.553,.115],[4.614,.25]],
  [[4.642,.328],[4.614,.16],[4.592,.059],[4.603,.009],[4.637,-.019],[4.732,-.014],[4.844,.014],[4.917,.048],[4.906,.098],[4.956,.16],[4.996,.205]]
];
const bOval = [[4.329,-.478],[4.351,-.411],[4.43,-.378],[4.508,-.389],[4.575,-.456],[4.575,-.523],[4.508,-.579],[4.452,-.596],[4.374,-.546]];

// Panel (b): gaps inside the black regions --------------------
const bWhiteArcs = [
  [[.564,-.083],[.637,-.083]],[[.326,.111],[.405,.122]],[[.657,-.108],[.75,-.13]],[[.299,-.164],[.484,-.164]],[[.81,.07],[.93,-.005],[1.05,-.02]],[[.87,-.04],[1.05,-.05]],
  [[1.31,-.2],[1.39,-.222],[1.5,-.2]],[[1.824,-.153],[1.88,-.232],[1.958,-.265],[2.048,-.26],[2.126,-.198]],
  [[2.395,-.153],[2.406,-.209],[2.485,-.254],[2.586,-.243],[2.675,-.198]],
  [[2.978,-.108],[3.022,-.164],[3.112,-.187],[3.213,-.164]],
  [[2.19,.27],[2.29,.29],[2.39,.26]],[[2.78,.3],[2.88,.31],[2.98,.27]],
  [[2.283,-.052],[2.33,-.06]],[[2.85,.04],[2.9,.05]],[[2.82,.01],[2.88,.015]],
  [[3.388,.059],[3.433,.048],[3.489,.07]],[[3.388,.026],[3.433,.014],[3.478,.037]],[[3.33,.28],[3.41,.3],[3.48,.29]]
];
const bWhiteRings = [
  [[2.55,-.049],[2.574,-.019],[2.6,-.049],[2.574,-.08]],
  [[3.099,-.027],[3.132,.009],[3.168,-.027],[3.132,-.06]],
  [[3.388,.171],[3.433,.222],[3.478,.171],[3.433,.121]]
];
const bHoles = [
  [[1.986,-.071],[2.0,-.052],[2.014,-.071],[2.0,-.088]],
  [[2.283,.116],[2.294,.149],[2.311,.116],[2.294,.093]],
  [[2.847,.144],[2.871,.177],[2.899,.144],[2.871,.11]],
  [[3.41,.171],[3.433,.199],[3.457,.171],[3.433,.143]],
  [[3.954,.199],[3.982,.233],[4.021,.216],[4.015,.177],[3.982,.16]],
  [[4.172,.02],[4.2,.003],[4.25,.059],[4.234,.087],[4.206,.082]]
];

// Which arrays go to which panel --------------------
const aFills = [...aBlackFills, ...aBridges];
const aCurves = [...aBodyCurves, aTopStreamer, aStreamer1, aStreamer2, aStreamer3, aStreamer4, aOuterTop, ...aV2Curves, ...aV3Curves, ...aV4Curves, ...aV5Curves, ...aV6Curves, aV7Tail, ...aV9Curves, ...aRightCurves];
const aLoops = [...aV7Rings, ...aV8Rings, ...aV9Rings, ...aV10Rings, ...aV11Rings, ...aV12Rings, ...aV13Rings, aOval];
const bCurves = [...bBodyCurves, ...bV2Curves, bTopStreamer, ...bV4Curves, ...bV5Curves, ...bV6Curves, ...bV7Curves, ...bV8Curves, ...bV9Curves, bV12Hat, ...bRightCurves];
const bLoops = [bBlobTail, ...bV10Rings, ...bV11Rings, ...bV12Rings, ...bV13Rings, ...bV14Rings, bOval];

// Functions --------------------
const LINE_WIDTH = 4.2;
const FONT = '"Liberation Serif", serif';

const toPoints = (pts, closed) => {
  const list = pts.map(([x, y]) => ({ x, y }));
  return closed ? [...list, list[0]] : list;
};

const stroke = (pts, closed, color, width, order) => ({
  data: toPoints(pts, closed),
  borderColor: color,
  borderWidth: width,
  order,
  fill: false,
});

const solid = (pts, color, order) => ({
  data: toPoints(pts, true),
  borderColor: color,
  backgroundColor: color,
  borderWidth: color === '#000' ? 2 : 0,
  order,
  fill: 'shape',
});

const buildDatasets = ({ fills, grey, curves, loops, arcs, rings, holes }) => [
  ...fills.map(p => solid(p, '#000', 6)),
  ...curves.map(p => stroke(p, false, '#000', LINE_WIDTH, 5)),
  ...loops.map(p => stroke(p, true, '#000', LINE_WIDTH, 5)),
  ...arcs.map(p => stroke(p, false, '#fff', 2, 3)),
  ...rings.map(p => stroke(p, true, '#fff', 2, 3)),
  ...holes.map(p => solid(p, '#fff', 2)),
  solid(grey, '#c8c8c8', 1),
];

// frame and panel letter
const framePlugin = letter => ({
  id: 'frame',
  afterDraw(chart) {
    const { ctx, chartArea: { left, top, width, height } } = chart;
    ctx.save();
    ctx.strokeStyle = '#000';
    ctx.lineWidth = 5;
    ctx.strokeRect(left, top, width, height);
    ctx.fillStyle = '#000';
    ctx.font = `66px ${FONT}`;
    ctx.textBaseline = 'middle';
    ctx.fillText(letter, left + 42, top + 66);
    ctx.restore();
  },
});

// labels overhang the plot area, the layout must not make room for them
const noOverhang = axis => {
  axis.paddingTop = 0;
  axis.paddingBottom = 0;
  axis.paddingLeft = 0;
  axis.paddingRight = 0;
};

const createPanel = (id, letter, axisHeight, content) => new Chart(document.getElementById(id), {
  type: 'scatter',
  data: { datasets: buildDatasets(content) },
  plugins: [framePlugin(letter)],
  options: {
    responsive: false,
    animation: false,
    events: [],
    showLine: true,
    layout: { padding: { top: 41, right: 109, left: 0, bottom: 0 } },
    elements: { point: { radius: 0 }, line: { tension: 0.3 } },
    plugins: { legend: { display: false }, tooltip: { enabled: false } },
    scales: {
      x: {
        type: 'linear',
        min: -0.09,
        max: 5,
        afterBuildTicks: axis => { axis.ticks = xTicks.map(value => ({ value })); },
        afterFit: axis => { axis.height = axisHeight; noOverhang(axis); },
        border: { display: false },
        grid: { drawOnChartArea: false, tickLength: -14, tickWidth: 4, tickColor: '#000' },
        ticks: {
          autoSkip: false,
          maxRotation: 0,
          padding: 27,
          color: '#000',
          font: { family: FONT, size: 62 },
          callback: value => (xLabels.includes(value) ? String(value) : ''),
        },
      },
      y: {
        type: 'linear',
        min: -0.8,
        max: 0.8,
        afterBuildTicks: axis => { axis.ticks = yTicks.map(value => ({ value })); },
        afterFit: axis => { axis.width = 262; noOverhang(axis); },
        border: { display: false },
        grid: { drawOnChartArea: false, tickLength: -14, tickWidth: 5, tickColor: '#000' },
        ticks: {
          autoSkip: false,
          padding: 33,
          labelOffset: -7,
          color: '#000',
          font: { family: FONT, size: 64 },
          callback: value => {
            if (!yLabels.includes(value)) return '';
            return value < 0 ? `\u2212\u2009${Math.abs(value)}` : String(value);
          },
        },
      },
    },
  },
});

createPanel('panelA', '(a)', 93, { fills: aFills, grey: aGrey, curves: aCurves, loops: aLoops, arcs: aWhiteArcs, rings: aWhiteRings, holes: aHoles });
createPanel('panelB', '(b)', 99, { fills: bBlackFills, grey: bGrey, curves: bCurves, loops: bLoops, arcs: bWhiteArcs, rings: bWhiteRings, holes: bHoles });
</script>
</body>
</html>
